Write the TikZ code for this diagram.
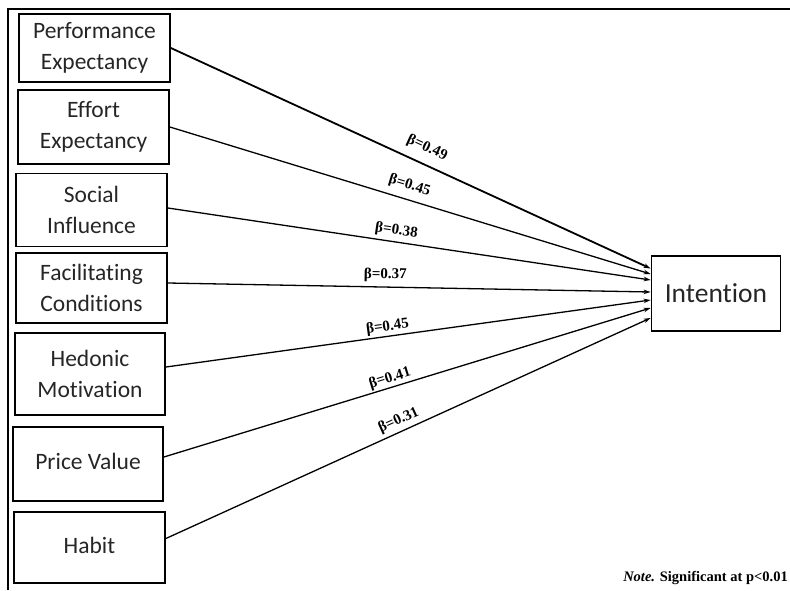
\documentclass[tikz,border=0pt]{standalone}
\usepackage{fontspec}
\setmainfont{Liberation Serif}
\newfontfamily\boxfont[Ligatures={NoCommon}]{Carlito}
\usetikzlibrary{arrows.meta}
\begin{document}
\begin{tikzpicture}[x={(1pt,0)},y={(0,-1pt)},
  var/.style={draw,line width=1.8pt,inner sep=0pt,align=center,text=black!85,
    font=\boxfont\fontsize{23.5}{31}\selectfont},
  path/.style={line width=1.3pt,-{Stealth[length=7pt,width=4.5pt]}},
  beta/.style={sloped,font=\bfseries\fontsize{15}{16}\selectfont,inner sep=0.5pt}]
\useasboundingbox (0,0) rectangle (790,590);
\draw[line width=1.8pt] (8,590) -- (8,9) -- (790,9);
\node[var,minimum width=151pt,minimum height=68pt] (pe) at (94.5,48) {Performance\\Expectancy};
\node[var,minimum width=151pt,minimum height=74pt] (ee) at (93.5,127) {Effort\\Expectancy};
\node[var,minimum width=151pt,minimum height=73pt] (si) at (91.5,210) {Social\\Influence};
\node[var,minimum width=151pt,minimum height=70pt] (fc) at (91.5,288) {Facilitating\\Conditions};
\node[var,minimum width=150pt,minimum height=82pt] (hm) at (90,374) {Hedonic\\Motivation};
\node[var,minimum width=150pt,minimum height=74pt] (pv) at (88,464) {\raisebox{5pt}{Price Value}};
\node[var,minimum width=151pt,minimum height=71pt] (hb) at (89.5,547.5) {\raisebox{4pt}{Habit}};
\node[var,minimum width=129pt,minimum height=75pt,font=\boxfont\fontsize{27.5}{30}\selectfont] (int) at (716,293.5) {Intention};
\coordinate (t1) at ([yshift=25pt]int.west);
\coordinate (t2) at ([yshift=19.5pt]int.west);
\coordinate (t3) at ([yshift=13.5pt]int.west);
\coordinate (t4) at ([yshift=1.5pt]int.west);
\coordinate (t5) at ([yshift=-6.5pt]int.west);
\coordinate (t6) at ([yshift=-14.5pt]int.west);
\coordinate (t7) at ([yshift=-24.5pt]int.west);
\draw[path,line width=1.8pt] ([yshift=0pt]pe.east) -- node[beta,pos=0.52,above=8pt]{β=0.49} (t1);
\draw[path] ([yshift=0pt]ee.east) -- node[beta,pos=0.49,above=6pt]{β=0.45} (t2);
\draw[path] ([yshift=2pt]si.east) -- node[beta,pos=0.47,above=3pt]{β=0.38} (t3);
\draw[path] ([yshift=5pt]fc.east) -- node[beta,pos=0.45,above=4pt]{β=0.37} (t4);
\draw[path] ([yshift=7pt]hm.east) -- node[beta,pos=0.46,above=1.5pt]{β=0.45} (t5);
\draw[path] ([yshift=7pt]pv.east) -- node[beta,pos=0.47,above=1pt]{β=0.41} (t6);
\draw[path] ([yshift=9pt]hb.east) -- node[beta,pos=0.49,above=3pt]{β=0.31} (t7);
\node[font=\bfseries\fontsize{14.5}{16}\selectfont,anchor=east,inner sep=1pt] (note) at (789,578) {\textit{Note.} Significant at p<0.01};
\end{tikzpicture}
\end{document}
